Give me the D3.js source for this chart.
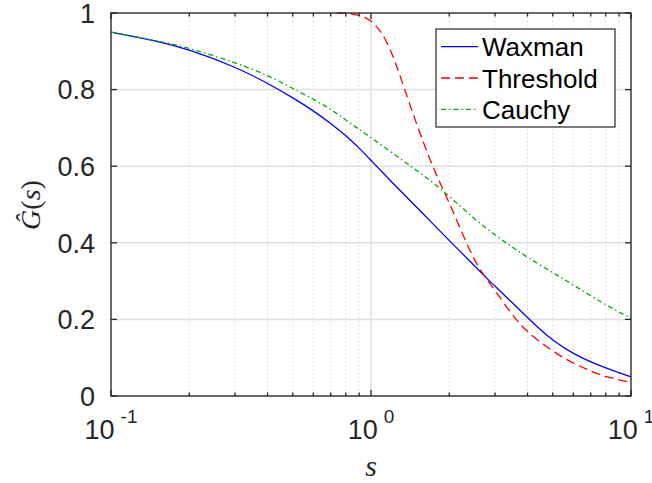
<!DOCTYPE html>
<html>
<head>
<meta charset="utf-8">
<script src="https://cdn.jsdelivr.net/npm/d3@7"></script>
<style>
  body { margin: 0; background: #fff; }
  svg { display: block; }
</style>
</head>
<body>
<div id="chart"></div>
<script>
// values
const waxmanS = [0.1, 0.15, 0.2, 0.3, 0.4, 0.5, 0.6, 0.7, 0.8, 0.9, 1, 1.2, 1.4, 1.7, 2, 2.5, 2.8, 3, 3.5, 4, 4.5, 5, 6, 8, 10];
const waxmanG = [0.95, 0.927, 0.905, 0.86, 0.817, 0.779, 0.745, 0.712, 0.68, 0.648, 0.615, 0.559, 0.513, 0.455, 0.406, 0.34, 0.306, 0.287, 0.243, 0.205, 0.172, 0.145, 0.109, 0.072, 0.05];

const thresholdS = [0.74, 0.8, 0.9, 1, 1.1, 1.2, 1.33, 1.5, 1.7, 1.85, 2, 2.2, 2.5, 2.8, 3, 3.5, 4, 5, 6, 7, 8, 10];
const thresholdG = [1.0, 1.0, 0.995, 0.982, 0.95, 0.9, 0.812, 0.708, 0.61, 0.553, 0.505, 0.438, 0.352, 0.302, 0.276, 0.21, 0.165, 0.116, 0.085, 0.065, 0.05, 0.035];

const cauchyS = [0.1, 0.15, 0.2, 0.3, 0.4, 0.5, 0.6, 0.7, 0.8, 0.9, 1, 1.4, 1.7, 2, 2.5, 3, 3.5, 4, 5, 6, 8, 10];
const cauchyG = [0.95, 0.928, 0.909, 0.871, 0.838, 0.803, 0.775, 0.749, 0.721, 0.696, 0.675, 0.603, 0.562, 0.522, 0.462, 0.42, 0.388, 0.362, 0.322, 0.29, 0.237, 0.203];

const seriesNames = ['Waxman', 'Threshold', 'Cauchy'];
const yTicks = [0, 0.2, 0.4, 0.6, 0.8, 1];
const xMajor = [0.1, 1, 10];
const xMajorExp = ['-1', '0', '1'];
const xMinor = [0.2, 0.3, 0.4, 0.5, 0.6, 0.7, 0.8, 0.9, 2, 3, 4, 5, 6, 7, 8, 9];

const W = 652, H = 483;
const plot = {left: 111, top: 13, right: 631, bottom: 396};
const axisColor = '#262626';
const font = '"Liberation Sans", Arial, Helvetica, sans-serif';

const svg = d3.select('#chart').append('svg')
  .attr('width', W)
  .attr('height', H);

const x = d3.scaleLog().domain([0.1, 10]).range([plot.left, plot.right]);
const y = d3.scaleLinear().domain([0, 1]).range([plot.bottom, plot.top]);

// ---- grid ----
const grid = svg.append('g');
xMinor.forEach(v => {
  grid.append('line')
    .attr('x1', x(v)).attr('x2', x(v))
    .attr('y1', plot.top).attr('y2', plot.bottom)
    .style('stroke', '#c8c8c8')
    .style('stroke-width', 1)
    .style('stroke-dasharray', '1,3');
});
xMajor.forEach(v => {
  grid.append('line')
    .attr('x1', x(v)).attr('x2', x(v))
    .attr('y1', plot.top).attr('y2', plot.bottom)
    .style('stroke', '#e0e0e0')
    .style('stroke-width', 1.5);
});
yTicks.forEach(v => {
  grid.append('line')
    .attr('x1', plot.left).attr('x2', plot.right)
    .attr('y1', y(v)).attr('y2', y(v))
    .style('stroke', '#e0e0e0')
    .style('stroke-width', 1.5);
});

// ---- curves ----
svg.append('clipPath').attr('id', 'clip')
  .append('rect')
  .attr('x', plot.left).attr('y', plot.top - 1)
  .attr('width', plot.right - plot.left).attr('height', plot.bottom - plot.top + 1);

const line = d3.line()
  .x(d => x(d[0]))
  .y(d => y(d[1]))
  .curve(d3.curveBasis);

const series = [
  {name: seriesNames[0], s: waxmanS, g: waxmanG, color: '#0000ff', dash: null},
  {name: seriesNames[1], s: thresholdS, g: thresholdG, color: '#ff0000', dash: '9,5'},
  {name: seriesNames[2], s: cauchyS, g: cauchyG, color: '#00b000', dash: '5,3,1.5,3'}
];

series.forEach(sr => {
  const pts = sr.s.map((v, i) => [v, sr.g[i]]);
  svg.append('path')
    .attr('d', line(pts))
    .attr('clip-path', 'url(#clip)')
    .style('fill', 'none')
    .style('stroke', sr.color)
    .style('stroke-width', 1.3)
    .style('stroke-dasharray', sr.dash);
});

// ---- box and ticks ----
const ax = svg.append('g').style('stroke', axisColor).style('stroke-width', 1.3);
ax.append('rect')
  .attr('x', plot.left).attr('y', plot.top)
  .attr('width', plot.right - plot.left).attr('height', plot.bottom - plot.top)
  .style('fill', 'none');

xMajor.concat(xMinor).forEach(v => {
  const len = xMajor.includes(v) ? 6 : 3.5;
  ax.append('line').attr('x1', x(v)).attr('x2', x(v)).attr('y1', plot.bottom).attr('y2', plot.bottom - len);
  ax.append('line').attr('x1', x(v)).attr('x2', x(v)).attr('y1', plot.top).attr('y2', plot.top + len);
});
yTicks.forEach(v => {
  ax.append('line').attr('x1', plot.left).attr('x2', plot.left + 6).attr('y1', y(v)).attr('y2', y(v));
  ax.append('line').attr('x1', plot.right).attr('x2', plot.right - 6).attr('y1', y(v)).attr('y2', y(v));
});

// ---- tick labels ----
yTicks.forEach(v => {
  svg.append('text')
    .text(d3.format('')(v))
    .attr('x', 95)
    .attr('y', y(v))
    .attr('dy', '0.36em')
    .attr('text-anchor', 'end')
    .style('font-family', font)
    .style('font-size', '27px')
    .style('fill', axisColor);
});

xMajor.forEach((v, i) => {
  const t = svg.append('text')
    .attr('x', x(v))
    .attr('y', 439)
    .attr('text-anchor', 'middle')
    .style('font-family', font)
    .style('fill', axisColor);
  t.append('tspan').text('10').style('font-size', '27px');
  t.append('tspan').text(xMajorExp[i]).attr('dx', 6).attr('dy', -16).style('font-size', '19px');
});

// ---- axis labels ----
svg.append('text')
  .text('s')
  .attr('x', 371)
  .attr('y', 476)
  .attr('text-anchor', 'middle')
  .style('font-family', '"Liberation Serif", "DejaVu Serif", serif')
  .style('font-style', 'italic')
  .style('font-size', '30px')
  .style('fill', axisColor);

const yl = svg.append('text')
  .attr('transform', 'translate(40,205) rotate(-90)')
  .attr('text-anchor', 'middle')
  .style('font-family', '"Liberation Serif", "DejaVu Serif", serif')
  .style('font-size', '28px')
  .style('fill', axisColor);
yl.append('tspan').text('Ĝ').style('font-style', 'italic');
yl.append('tspan').text('(');
yl.append('tspan').text('s').style('font-style', 'italic');
yl.append('tspan').text(')');

// ---- legend ----
const legend = svg.append('g');
legend.append('rect')
  .attr('x', 436).attr('y', 29)
  .attr('width', 179).attr('height', 98)
  .style('fill', '#fff')
  .style('stroke', axisColor)
  .style('stroke-width', 1.2);

series.forEach((sr, i) => {
  const ly = 46.7 + i * 31.3;
  legend.append('line')
    .attr('x1', 441).attr('x2', 478)
    .attr('y1', ly).attr('y2', ly)
    .style('stroke', sr.color)
    .style('stroke-width', 1.3)
    .style('stroke-dasharray', sr.dash);
  legend.append('text')
    .text(sr.name)
    .attr('x', 482)
    .attr('y', ly + 9.5)
    .style('font-family', font)
    .style('font-size', '26px')
    .style('fill', '#000');
});
</script>
</body>
</html>
